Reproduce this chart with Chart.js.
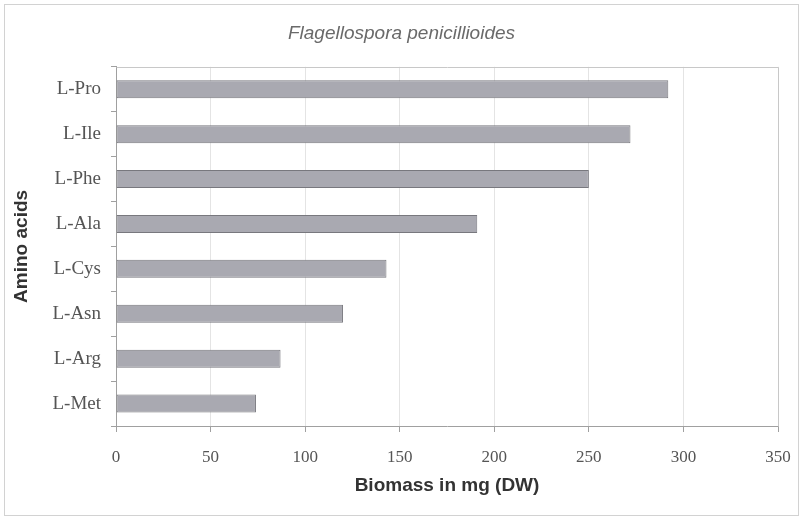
<!DOCTYPE html>
<html>
<head>
<meta charset="utf-8">
<script src="https://cdn.jsdelivr.net/npm/chart.js@4/dist/chart.umd.min.js"></script>
<style>
  html, body { margin: 0; padding: 0; background: #fff; }
  #wrap { width: 803px; height: 519px; }
</style>
</head>
<body>
<div id="wrap"><canvas id="grafico" width="803" height="519"></canvas></div>
<script>
// data
const aminoacidos = ["L-Pro", "L-Ile", "L-Phe", "L-Ala", "L-Cys", "L-Asn", "L-Arg", "L-Met"];
const biomasa = [292, 272, 250, 191, 143, 120, 87, 74];
const ejeX = [0, 50, 100, 150, 200, 250, 300, 350];

const marco = {
    id: "marco",
    beforeDraw(chart) {
        const ctx = chart.ctx;
        ctx.save();
        ctx.strokeStyle = "#d2d2d2";
        ctx.lineWidth = 1;
        ctx.strokeRect(4.5, 4.5, 794, 511);
        ctx.restore();
    },
    afterDraw(chart) {
        // borde superior y derecho del area
        const a = chart.chartArea;
        const ctx = chart.ctx;
        ctx.save();
        ctx.strokeStyle = "#c8c8c8";
        ctx.lineWidth = 1;
        ctx.beginPath();
        ctx.moveTo(Math.round(a.left) + 0.5, Math.round(a.top) + 0.5);
        ctx.lineTo(Math.round(a.right) + 0.5, Math.round(a.top) + 0.5);
        ctx.lineTo(Math.round(a.right) + 0.5, Math.round(a.bottom) + 0.5);
        ctx.stroke();
        ctx.restore();
    }
};

const serif = "'Liberation Serif', 'Times New Roman', serif";
const sans = "'Liberation Sans', Arial, sans-serif";

new Chart(document.getElementById("grafico").getContext("2d"), {
    type: "bar",
    data: {
        labels: aminoacidos,
        datasets: [{
            label: "Biomass",
            data: biomasa,
            backgroundColor: "#a9a9b1",
            borderColor: "#78787e",
            borderWidth: 1,
            borderSkipped: false,
            categoryPercentage: 1,
            barPercentage: 0.4
        }]
    },
    options: {
        indexAxis: "y",
        responsive: false,
        animation: false,
        layout: { padding: { left: 0, right: 0, top: 0, bottom: 12 } },
        plugins: {
            legend: { display: false },
            tooltip: { enabled: false },
            title: {
                display: true,
                text: "Flagellospora penicillioides",
                color: "#6a6a6a",
                font: { family: sans, size: 19, style: "italic", weight: "normal" },
                padding: { top: 22, bottom: 22 }
            }
        },
        scales: {
            x: {
                min: 0,
                max: 350,
                afterBuildTicks: (s) => { s.ticks = ejeX.map(v => ({ value: v })); },
                afterFit: (s) => { s.height = 81; s.paddingRight = 25; },
                grid: {
                    color: "#e4e4e4",
                    tickColor: "#a0a0a0",
                    tickLength: 6
                },
                border: { color: "#a0a0a0" },
                ticks: {
                    color: "#555",
                    padding: 15,
                    maxRotation: 0,
                    font: { family: serif, size: 17 }
                },
                title: {
                    display: true,
                    text: "Biomass in mg (DW)",
                    color: "#333",
                    font: { family: sans, size: 19, weight: "bold" },
                    padding: { top: 0, bottom: 10 }
                }
            },
            y: {
                afterFit: (s) => { s.width = 116; },
                grid: {
                    drawOnChartArea: false,
                    tickColor: "#a0a0a0",
                    tickLength: 5
                },
                border: { color: "#a0a0a0" },
                ticks: {
                    color: "#555",
                    padding: 10,
                    font: { family: serif, size: 19 }
                },
                title: {
                    display: true,
                    text: "Amino acids",
                    color: "#333",
                    font: { family: sans, size: 19, weight: "bold" },
                    padding: { top: 10, bottom: 0 }
                }
            }
        }
    },
    plugins: [marco]
});
</script>
</body>
</html>
